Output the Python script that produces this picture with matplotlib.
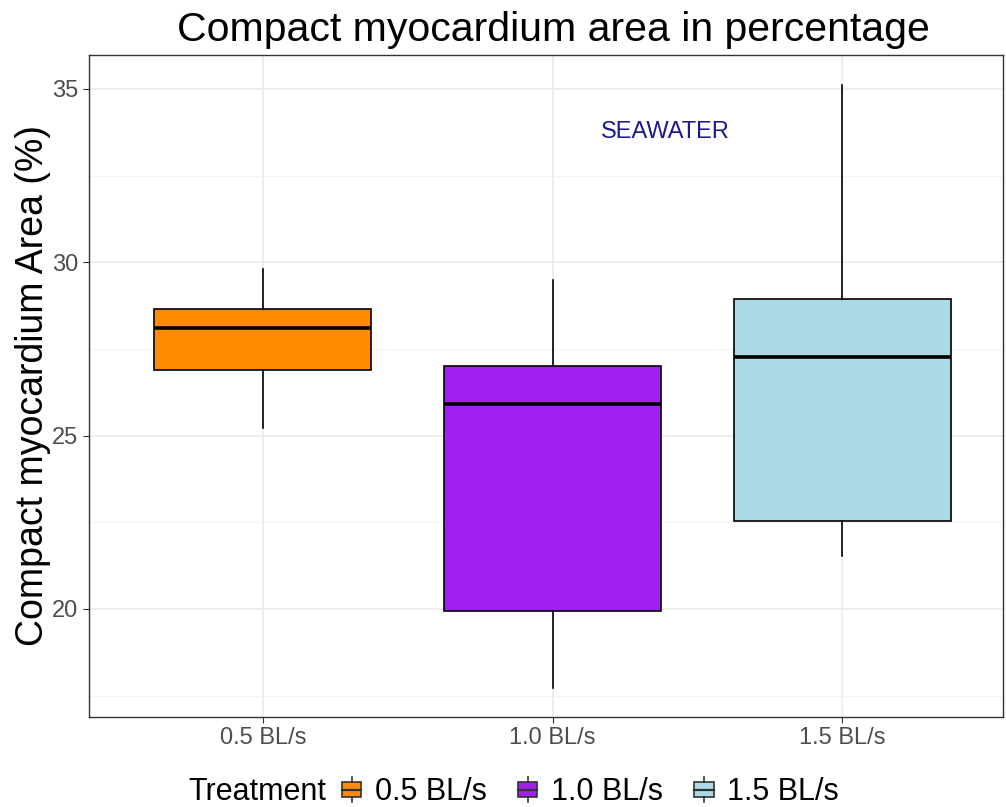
import matplotlib.pyplot as plt
from matplotlib.legend_handler import HandlerBase
from matplotlib.patches import Rectangle
from matplotlib.lines import Line2D

plt.rcParams['font.family'] = ['Liberation Sans', 'DejaVu Sans']

treatments = ['0.5 BL/s', '1.0 BL/s', '1.5 BL/s']
colors = ['#FF8C00', '#A020F0', '#ADD8E6']
whisker_low = [25.23, 17.72, 21.53]
q1 = [26.88, 19.94, 22.54]
median = [28.09, 25.90, 27.26]
q3 = [28.64, 27.00, 28.93]
whisker_high = [29.80, 29.48, 35.12]

stats = []
for i, t in enumerate(treatments):
    stats.append(dict(label=t, whislo=whisker_low[i], q1=q1[i], med=median[i],
                      q3=q3[i], whishi=whisker_high[i], fliers=[]))

fig = plt.figure(figsize=(10.06, 8.07), dpi=100)
ax = fig.add_axes([89 / 1006, 90 / 807, 914 / 1006, 662 / 807])

bp = ax.bxp(stats, positions=[1, 2, 3], widths=0.75, patch_artist=True, showcaps=False,
            boxprops=dict(edgecolor='black', linewidth=1.2),
            medianprops=dict(color='black', linewidth=2.6),
            whiskerprops=dict(color='black', linewidth=1.2), zorder=3)
for patch, c in zip(bp['boxes'], colors):
    patch.set_facecolor(c)

ax.set_xlim(0.4, 3.555)
ax.set_ylim(16.88, 35.98)
ax.set_yticks([20, 25, 30, 35])
ax.set_yticks([17.5, 22.5, 27.5, 32.5], minor=True)
ax.set_xticks([1, 2, 3])
ax.set_xticklabels(treatments)
ax.grid(True, which='major', color='#EBEBEB', linewidth=1.2, zorder=0)
ax.grid(True, which='minor', axis='y', color='#F2F2F2', linewidth=0.7, zorder=0)
ax.set_axisbelow(True)
ax.tick_params(axis='both', which='major', labelsize=17, labelcolor='#4D4D4D',
               color='#333333', length=4)
ax.tick_params(which='minor', length=0)
for s in ax.spines.values():
    s.set_color('#333333')
    s.set_linewidth(1.0)

ax.set_title('Compact myocardium area in percentage', fontsize=29.5, pad=10, x=0.508)
ax.set_ylabel('Compact myocardium Area (%)', fontsize=27, labelpad=1)
ax.text(2.39, 33.76, 'SEAWATER', color='#1A1A8C', fontsize=17, ha='center', va='center')


class BoxHandler(HandlerBase):
    def create_artists(self, legend, orig_handle, xdescent, ydescent, width, height, fontsize, trans):
        c = orig_handle.get_facecolor()
        cx = width / 2 - xdescent
        w = width * 0.9
        y0 = -ydescent
        r = Rectangle((cx - w / 2, y0 + height * 0.2), w, height * 0.6,
                      facecolor=c, edgecolor='#333333', lw=1.2, transform=trans)
        med = Line2D([cx - w / 2, cx + w / 2], [y0 + height * 0.5] * 2,
                     color='#333333', lw=1.6, transform=trans)
        wt = Line2D([cx, cx], [y0 + height * 0.8, y0 + height * 1.0], color='#333333', lw=1.2, transform=trans)
        wb = Line2D([cx, cx], [y0, y0 + height * 0.2], color='#333333', lw=1.2, transform=trans)
        return [r, med, wt, wb]


fig.text(188 / 1006, 15 / 807, 'Treatment', fontsize=22, ha='left', va='center')
handles = [Rectangle((0, 0), 1, 1, facecolor=c) for c in colors]
leg = fig.legend(handles, treatments, handler_map={Rectangle: BoxHandler()},
                 loc='center left', bbox_to_anchor=(341 / 1006, 15 / 807), ncol=3, frameon=False,
                 fontsize=22, handlelength=0.7, handleheight=0.9,
                 handletextpad=0.4, columnspacing=1.0, borderpad=0, borderaxespad=0)

fig.savefig('out.png', dpi=100)
